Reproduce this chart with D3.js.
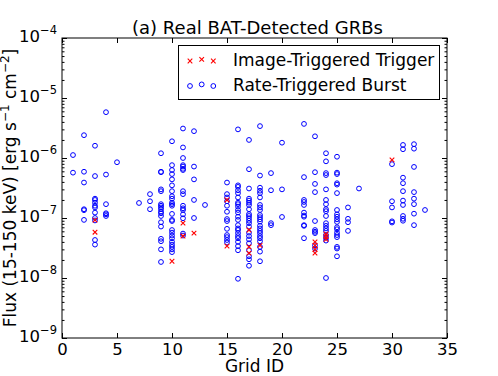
<!DOCTYPE html>
<html>
<head>
<meta charset="utf-8">
<script src="https://cdn.jsdelivr.net/npm/d3@7"></script>
<style>
  body { margin: 0; background: #fff; overflow: hidden; }
  svg { display: block; }
  text { font-family: "DejaVu Sans", sans-serif; }
</style>
</head>
<body>
<div id="chart"></div>
<script>
// x axis: grid IDs, y axis: flux decades (log10)
const xTicks = [0, 5, 10, 15, 20, 25, 30, 35];
const yDecades = [-9, -8, -7, -6, -5, -4];
const legendLabels = ["Image-Triggered Trigger", "Rate-Triggered Burst"];

// [grid ID, flux in erg s^-1 cm^-2]
const imageTriggered = [
  [3, 9.2e-8], [3, 5.8e-8],
  [10, 1.9e-8],
  [11, 8.2e-8], [11, 5.0e-8],
  [12, 5.6e-8],
  [15, 2.0e-7], [15, 3.4e-8],
  [17, 6.3e-8], [17, 3.3e-8], [17, 2.6e-8],
  [18, 3.5e-8],
  [23, 4.0e-8], [23, 3.5e-8], [23, 3.0e-8], [23, 2.6e-8],
  [24, 5.4e-8], [24, 4.9e-8], [24, 4.4e-8],
  [30, 9.3e-7]
];

const rateTriggered = [
  [1, 1.12e-6], [1, 5.7e-7],
  [2, 2.4e-6], [2, 5.9e-7], [2, 3.9e-7], [2, 1.4e-7], [2, 1.35e-7], [2, 9.3e-8],
  [3, 1.6e-6], [3, 5.0e-7], [3, 2.1e-7], [3, 2.0e-7], [3, 1.8e-7], [3, 1.6e-7],
  [3, 1.5e-7], [3, 1.23e-7], [3, 1.0e-7], [3, 9.1e-8], [3, 4.3e-8], [3, 3.6e-8],
  [4, 5.8e-6], [4, 5.3e-7], [4, 1.7e-7], [4, 1.2e-7], [4, 1.15e-7], [4, 1.08e-7],
  [5, 8.5e-7],
  [7, 1.78e-7],
  [8, 2.5e-7], [8, 1.9e-7], [8, 1.4e-7],
  [9, 1.2e-6], [9, 5.9e-7], [9, 5.8e-7], [9, 3.0e-7], [9, 2.8e-7], [9, 1.7e-7],
  [9, 1.6e-7], [9, 1.5e-7], [9, 1.4e-7], [9, 1.27e-7], [9, 1.2e-7], [9, 1.08e-7],
  [9, 8.5e-8], [9, 7.2e-8], [9, 4.5e-8], [9, 4.1e-8], [9, 3.0e-8], [9, 1.85e-8],
  [10, 1.9e-6], [10, 7.6e-7], [10, 6.3e-7], [10, 5.4e-7], [10, 4.4e-7], [10, 3.5e-7],
  [10, 2.8e-7], [10, 2.3e-7], [10, 2.1e-7], [10, 1.8e-7], [10, 1.7e-7], [10, 1.6e-7],
  [10, 1.17e-7], [10, 9.3e-8], [10, 8.9e-8], [10, 6.3e-8], [10, 5.7e-8], [10, 5.1e-8],
  [10, 4.6e-8], [10, 4.0e-8], [10, 3.6e-8], [10, 3.3e-8], [10, 3.0e-8], [10, 2.7e-8],
  [11, 3.1e-6], [11, 1.5e-6], [11, 1.0e-6], [11, 7.6e-7], [11, 7.2e-7], [11, 6.6e-7],
  [11, 6.3e-7], [11, 2.8e-7], [11, 2.5e-7], [11, 1.6e-7], [11, 1.45e-7], [11, 1.36e-7],
  [11, 1.15e-7], [11, 9.9e-8], [11, 5.5e-8], [11, 5.1e-8],
  [12, 2.8e-6], [12, 7.2e-7], [12, 4.4e-7], [12, 2.0e-7], [12, 1.0e-7],
  [13, 1.65e-7],
  [15, 3.9e-7], [15, 2.5e-7], [15, 2.2e-7], [15, 1.9e-7], [15, 1.6e-7], [15, 1.27e-7],
  [15, 9.6e-8], [15, 8.9e-8], [15, 6.6e-8], [15, 5.2e-8], [15, 4.8e-8], [15, 4.3e-8],
  [15, 3.9e-8],
  [16, 3.0e-6], [16, 3.5e-7], [16, 3.3e-7], [16, 2.9e-7], [16, 2.6e-7], [16, 2.2e-7],
  [16, 1.8e-7], [16, 1.7e-7], [16, 1.55e-7], [16, 1.36e-7], [16, 1.23e-7], [16, 1.05e-7],
  [16, 9.3e-8], [16, 7.6e-8], [16, 6.7e-8], [16, 6.3e-8], [16, 5.6e-8], [16, 5.0e-8],
  [16, 4.6e-8], [16, 4.0e-8], [16, 3.4e-8], [16, 2.9e-8], [16, 9.7e-9],
  [17, 2.0e-6], [17, 6.5e-7], [17, 3.1e-7], [17, 2.1e-7], [17, 1.95e-7], [17, 1.8e-7],
  [17, 1.65e-7], [17, 1.4e-7], [17, 1.16e-7], [17, 1.08e-7], [17, 9.9e-8], [17, 9.0e-8],
  [17, 8.2e-8], [17, 7.2e-8], [17, 5.7e-8], [17, 5.0e-8], [17, 4.4e-8], [17, 3.8e-8],
  [17, 2.9e-8], [17, 2.3e-8], [17, 2.05e-8], [17, 1.6e-8],
  [18, 3.4e-6], [18, 5.1e-7], [18, 3.2e-7], [18, 2.85e-7], [18, 2.6e-7], [18, 2.2e-7],
  [18, 1.65e-7], [18, 1.5e-7], [18, 1.36e-7], [18, 1.12e-7], [18, 1.03e-7], [18, 9.5e-8],
  [18, 8.7e-8], [18, 7.4e-8], [18, 6.7e-8], [18, 6.1e-8], [18, 5.6e-8], [18, 5.0e-8],
  [18, 4.6e-8], [18, 4.1e-8], [18, 3.3e-8], [18, 2.75e-8], [18, 1.9e-8],
  [19, 5.6e-7], [19, 2.9e-7], [19, 8.2e-8], [19, 7.6e-8],
  [20, 1.8e-6], [20, 3.0e-7], [20, 1.04e-7],
  [22, 3.7e-6], [22, 4.8e-7], [22, 2.0e-7], [22, 1.85e-7], [22, 1.65e-7], [22, 1.23e-7],
  [22, 1.1e-7], [22, 1.05e-7], [22, 7.6e-8], [22, 7.4e-8], [22, 4.6e-8],
  [23, 2.3e-6], [23, 5.8e-7], [23, 3.7e-7], [23, 2.7e-7], [23, 8.9e-8], [23, 6.3e-8],
  [23, 5.9e-8], [23, 5.6e-8], [23, 3.5e-8], [23, 3.1e-8],
  [24, 1.2e-6], [24, 8.8e-7], [24, 5.6e-7], [24, 5.2e-7], [24, 3.0e-7], [24, 2.0e-7],
  [24, 1.7e-7], [24, 1.4e-7], [24, 1.3e-7], [24, 1.08e-7], [24, 8.2e-8], [24, 7.4e-8],
  [24, 6.7e-8], [24, 6.1e-8], [24, 5.2e-8], [24, 4.7e-8], [24, 4.2e-8], [24, 1.0e-8],
  [25, 1.05e-6], [25, 5.7e-7], [25, 5.4e-7], [25, 3.8e-7], [25, 3.6e-7], [25, 2.6e-7],
  [25, 1.36e-7], [25, 1.15e-7], [25, 1.05e-7], [25, 9.5e-8], [25, 8.6e-8], [25, 7.0e-8],
  [25, 6.5e-8], [25, 5.7e-8], [25, 5.2e-8], [25, 4.8e-8], [25, 3.3e-8], [25, 3.1e-8],
  [25, 2.3e-8],
  [26, 1.5e-7], [26, 9.7e-8], [26, 8.5e-8], [26, 6.1e-8],
  [27, 3.1e-7],
  [30, 7.9e-7], [30, 1.9e-7], [30, 1.5e-7], [30, 8.8e-8], [30, 8.4e-8],
  [31, 1.65e-6], [31, 1.4e-6], [31, 4.7e-7], [31, 3.8e-7], [31, 2.8e-7], [31, 1.95e-7],
  [31, 1.65e-7], [31, 1.08e-7], [31, 9.7e-8], [31, 9.0e-8],
  [32, 1.7e-6], [32, 1.43e-6], [32, 7.1e-7], [32, 2.7e-7], [32, 2.1e-7], [32, 1.7e-7],
  [32, 1.18e-7], [32, 7.6e-8],
  [33, 1.36e-7]
];

const width = 498, height = 376;
const margin = { top: 38, right: 51, bottom: 38, left: 62 };
const innerWidth = width - margin.left - margin.right;
const innerHeight = height - margin.top - margin.bottom;

const svg = d3.select("#chart").append("svg")
  .attr("width", width)
  .attr("height", height);

const g = svg.append("g")
  .attr("transform", `translate(${margin.left},${margin.top})`);

const x = d3.scaleLinear().domain([0, 35]).range([0, innerWidth]);
const y = d3.scaleLog()
  .domain([Math.pow(10, yDecades[0]), Math.pow(10, yDecades[yDecades.length - 1])])
  .range([innerHeight, 0]);

const majorY = yDecades.map(d => Math.pow(10, d));
const minorY = [];
yDecades.slice(0, -1).forEach(d => {
  for (let m = 2; m <= 9; m++) minorY.push(m * Math.pow(10, d));
});

// ticks point inward on all four sides
const majorLen = 5, minorLen = 2.5;

function cleanAxis(sel) {
  sel.select(".domain").remove();
  sel.selectAll(".tick line").attr("stroke", "#000");
}

// tick-only axes: drop the empty label nodes
function ticksOnly(sel) {
  cleanAxis(sel);
  sel.selectAll(".tick text").remove();
}

// bottom axis with labels
g.append("g")
  .attr("transform", `translate(0,${innerHeight})`)
  .call(d3.axisBottom(x).tickValues(xTicks).tickSize(-majorLen).tickPadding(5).tickFormat(d3.format("d")))
  .call(cleanAxis)
  .selectAll("text")
  .attr("fill", "#000")
  .style("font-size", "16.5px");

// top axis, ticks only
g.append("g")
  .call(d3.axisTop(x).tickValues(xTicks).tickSize(-majorLen))
  .call(ticksOnly);

// left axis with 10^n labels
const yLeft = g.append("g")
  .call(d3.axisLeft(y).tickValues(majorY).tickSize(-majorLen).tickPadding(5).tickFormat(""))
  .call(cleanAxis);

yLeft.selectAll(".tick text")
  .attr("fill", "#000")
  .attr("dy", "0.36em")
  .each(function (d) {
    const t = d3.select(this);
    const p = Math.round(Math.log10(d));
    t.append("tspan").style("font-size", "16.5px").text("10");
    t.append("tspan").attr("dy", -8).style("font-size", "11.5px").text("\u2212" + Math.abs(p));
  });

g.append("g")
  .call(d3.axisLeft(y).tickValues(minorY).tickSize(-minorLen))
  .call(ticksOnly);

// right axis, ticks only
g.append("g")
  .attr("transform", `translate(${innerWidth},0)`)
  .call(d3.axisRight(y).tickValues(majorY).tickSize(-majorLen))
  .call(ticksOnly);
g.append("g")
  .attr("transform", `translate(${innerWidth},0)`)
  .call(d3.axisRight(y).tickValues(minorY).tickSize(-minorLen))
  .call(ticksOnly);

// frame
g.append("rect")
  .attr("width", innerWidth)
  .attr("height", innerHeight)
  .attr("fill", "none")
  .attr("stroke", "#000")
  .attr("stroke-width", 1);

const xMark = (s) => `M${-s},${-s}L${s},${s}M${-s},${s}L${s},${-s}`;

// rate-triggered bursts: open blue circles
g.selectAll(".rate")
  .data(rateTriggered)
  .enter()
  .append("circle")
  .attr("class", "rate")
  .attr("cx", d => x(d[0]))
  .attr("cy", d => y(d[1]))
  .attr("r", 2.4)
  .attr("fill", "none")
  .attr("stroke", "#0000ff")
  .attr("stroke-width", 1);

// image-triggered: red crosses
g.selectAll(".image")
  .data(imageTriggered)
  .enter()
  .append("path")
  .attr("class", "image")
  .attr("transform", d => `translate(${x(d[0])},${y(d[1])})`)
  .attr("d", xMark(2.3))
  .attr("fill", "none")
  .attr("stroke", "#ff0000")
  .attr("stroke-width", 1.1);

// legend
const legend = svg.append("g").attr("class", "legend");
const lx = 178.5, ly = 45.5, lw = 261, lh = 54;

legend.append("rect")
  .attr("x", lx).attr("y", ly)
  .attr("width", lw).attr("height", lh)
  .attr("fill", "#fff");

const markerX = [190, 201.7, 213.3];
const markerDy = [0, -1.6, 0];
markerX.forEach((mx, i) => {
  legend.append("path")
    .attr("transform", `translate(${mx},${61 + markerDy[i]})`)
    .attr("d", xMark(2.3))
    .attr("stroke", "#ff0000")
    .attr("stroke-width", 1.1);
  legend.append("circle")
    .attr("cx", mx).attr("cy", 86 + markerDy[i])
    .attr("r", 2.4)
    .attr("fill", "none")
    .attr("stroke", "#0000ff");
});

legend.selectAll(".legend-label")
  .data(legendLabels)
  .enter()
  .append("text")
  .attr("class", "legend-label")
  .attr("x", 233)
  .attr("y", (d, i) => 66 + i * 25)
  .style("font-size", "17px")
  .text(d => d);

legend.append("rect")
  .attr("x", lx).attr("y", ly)
  .attr("width", lw).attr("height", lh)
  .attr("fill", "none")
  .attr("stroke", "#000");

// title
svg.append("text")
  .attr("text-anchor", "middle")
  .attr("x", margin.left + innerWidth / 2 + 3)
  .attr("y", 34)
  .style("font-size", "18px")
  .text("(a) Real BAT-Detected GRBs");

// x label
svg.append("text")
  .attr("text-anchor", "middle")
  .attr("x", margin.left + innerWidth / 2)
  .attr("y", 372)
  .style("font-size", "17px")
  .text("Grid ID");

// y label with superscripts
const yl = svg.append("text")
  .attr("text-anchor", "middle")
  .attr("transform", `translate(15.5,${margin.top + innerHeight / 2}) rotate(-90)`)
  .style("font-size", "17px");
yl.append("tspan").text("Flux (15-150 keV) [erg s");
yl.append("tspan").attr("dy", -7).style("font-size", "12px").text("\u22121");
yl.append("tspan").attr("dy", 7).text(" cm");
yl.append("tspan").attr("dy", -7).style("font-size", "12px").text("\u22122");
yl.append("tspan").attr("dy", 7).text("]");
</script>
</body>
</html>
